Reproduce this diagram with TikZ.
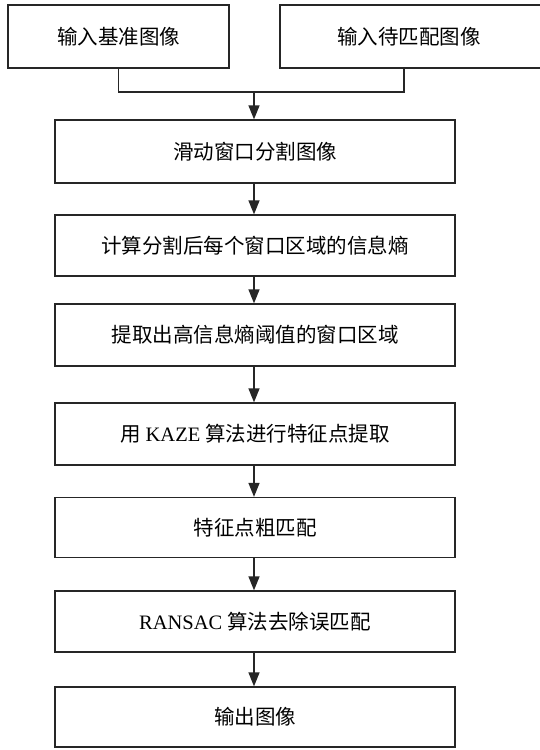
\documentclass[tikz,border=0pt]{standalone}
\usepackage{fontspec}
\setmainfont{Liberation Serif}
\newfontfamily\cjk{Noto Sans CJK SC}[Scale=1.0]
\usetikzlibrary{arrows.meta}
\begin{document}
\begin{tikzpicture}[x=1pt,y=-1pt,
  box/.style={draw=black!85,line width=1.3pt,fill=white,inner sep=0pt,font=\fontsize{20.5}{24}\selectfont},
  conn/.style={draw=black!85,line width=1.3pt},
  arr/.style={conn,-{Triangle[length=14pt,width=11pt]}}]
\useasboundingbox (0,0) rectangle (540,750);
\fill[white] (0,0) rectangle (540,750);
% top boxes
\node[box,minimum width=221pt,minimum height=63pt] (in1) at (118.5,36.5) {\cjk 输入基准图像};
\node[box,minimum width=270pt,minimum height=63pt] (in2) at (415,36.5) {};
\node[font=\fontsize{20.5}{24}\selectfont] (in2t) at (409,36.5) {\cjk 输入待匹配图像};
% main boxes
\node[box,minimum width=400pt,minimum height=63pt] (b1) at (255,151.5) {\cjk 滑动窗口分割图像};
\node[box,minimum width=400pt,minimum height=61pt] (b2) at (255,245.5) {\cjk 计算分割后每个窗口区域的信息熵};
\node[box,minimum width=400pt,minimum height=62pt] (b3) at (255,335) {\cjk 提取出高信息熵阈值的窗口区域};
\node[box,minimum width=400pt,minimum height=62pt] (b4) at (255,434) {{\cjk 用} KAZE {\cjk 算法进行特征点提取}};
\node[box,minimum width=400pt,minimum height=60pt] (b5) at (255,527.5) {\cjk 特征点粗匹配};
\node[box,minimum width=400pt,minimum height=61pt] (b6) at (255,621.5) {RANSAC {\cjk 算法去除误匹配}};
\node[box,minimum width=400pt,minimum height=60pt] (b7) at (255,717) {\cjk 输出图像};
% merge connector
\coordinate (m) at (254,92);
\draw[conn] (in1.south) |- (m) -| (404,68);
\draw[arr] (m) -- (m |- b1.north);
\draw[arr] (b1.south -| m) -- (b2.north -| m);
\draw[arr] (b2.south -| m) -- (b3.north -| m);
\draw[arr] (b3.south -| m) -- (b4.north -| m);
\draw[arr] (b4.south -| m) -- (b5.north -| m);
\draw[arr] (b5.south -| m) -- (b6.north -| m);
\draw[arr] (b6.south -| m) -- (b7.north -| m);
\end{tikzpicture}
\end{document}
